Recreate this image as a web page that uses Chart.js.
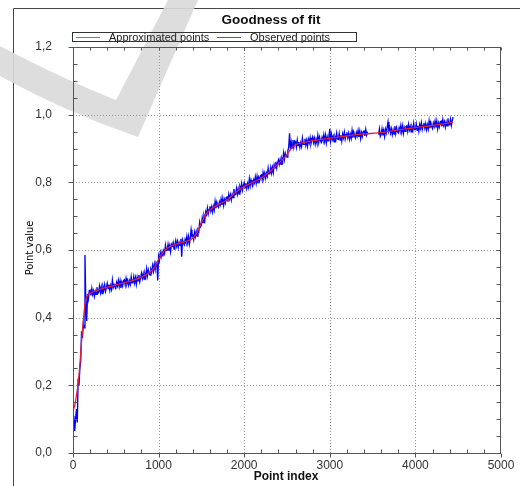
<!DOCTYPE html>
<html>
<head>
<meta charset="utf-8">
<script src="https://cdn.jsdelivr.net/npm/chart.js@4.4.1/dist/chart.umd.min.js"></script>
<style>
  html, body { margin: 0; padding: 0; background: #fff; }
  canvas { display: block; }
</style>
</head>
<body>
<canvas id="chart" width="520" height="486"></canvas>
<script>
// approximated (smooth) curve
const fitIndex = [0, 20, 40, 60, 80, 100, 120, 140, 160, 200, 300, 400, 500, 600, 700, 800, 900, 950,
  1000, 1050, 1100, 1200, 1300, 1400, 1450, 1500, 1550, 1600, 1700, 1800, 1900, 2000, 2100, 2200,
  2300, 2400, 2500, 2550, 2600, 2700, 2800, 2900, 3000, 3200, 3400, 3560, 3800, 4000, 4200, 4440]
const fitValue = [0.125, 0.14, 0.17, 0.205, 0.26, 0.33, 0.39, 0.44, 0.462, 0.472, 0.482, 0.49, 0.497, 0.503, 0.51, 0.52, 0.535, 0.548,
  0.572, 0.592, 0.605, 0.617, 0.624, 0.635, 0.652, 0.68, 0.705, 0.718, 0.735, 0.748, 0.77, 0.788, 0.8, 0.813,
  0.832, 0.855, 0.882, 0.9, 0.911, 0.918, 0.923, 0.927, 0.93, 0.937, 0.943, 0.946, 0.955, 0.962, 0.968, 0.978]

// observed points, one value every obsStep indices; two runs with a gap between them
const obsStep = 10
const obsStartA = 0
const obsA = [
  0.080, 0.110, 0.065, 0.100, 0.130, 0.090, 0.220, 0.200, 0.250, 0.270,
  0.360, 0.340, 0.380, 0.370, 0.585, 0.440, 0.390, 0.470, 0.455, 0.480,
  0.481, 0.466, 0.486, 0.469, 0.479, 0.463, 0.478, 0.469, 0.490, 0.472,
  0.476, 0.493, 0.474, 0.490, 0.471, 0.492, 0.482, 0.497, 0.478, 0.489,
  0.501, 0.486, 0.498, 0.481, 0.495, 0.484, 0.511, 0.490, 0.498, 0.491,
  0.488, 0.504, 0.494, 0.510, 0.492, 0.508, 0.488, 0.505, 0.494, 0.509,
  0.512, 0.497, 0.516, 0.500, 0.510, 0.496, 0.509, 0.499, 0.521, 0.503,
  0.504, 0.521, 0.503, 0.518, 0.499, 0.520, 0.509, 0.526, 0.506, 0.518,
  0.531, 0.516, 0.530, 0.514, 0.530, 0.519, 0.544, 0.524, 0.541, 0.530,
  0.526, 0.543, 0.536, 0.554, 0.538, 0.558, 0.542, 0.563, 0.557, 0.510,
  0.581, 0.569, 0.592, 0.580, 0.594, 0.581, 0.598, 0.590, 0.614, 0.598,
  0.599, 0.616, 0.598, 0.613, 0.595, 0.617, 0.612, 0.622, 0.603, 0.616,
  0.628, 0.612, 0.625, 0.608, 0.622, 0.614, 0.633, 0.580, 0.629, 0.620,
  0.615, 0.631, 0.622, 0.640, 0.621, 0.639, 0.618, 0.635, 0.660, 0.641,
  0.644, 0.631, 0.653, 0.640, 0.654, 0.641, 0.660, 0.655, 0.682, 0.669,
  0.674, 0.695, 0.681, 0.700, 0.688, 0.713, 0.705, 0.724, 0.707, 0.720,
  0.729, 0.715, 0.728, 0.713, 0.729, 0.718, 0.743, 0.724, 0.741, 0.730,
  0.726, 0.742, 0.734, 0.751, 0.733, 0.752, 0.732, 0.749, 0.739, 0.755,
  0.757, 0.743, 0.764, 0.751, 0.763, 0.748, 0.764, 0.755, 0.780, 0.763,
  0.764, 0.782, 0.765, 0.780, 0.765, 0.787, 0.778, 0.796, 0.777, 0.790,
  0.799, 0.784, 0.797, 0.782, 0.797, 0.786, 0.810, 0.790, 0.807, 0.796,
  0.791, 0.807, 0.799, 0.816, 0.798, 0.817, 0.797, 0.814, 0.804, 0.820,
  0.822, 0.808, 0.829, 0.815, 0.827, 0.812, 0.827, 0.818, 0.842, 0.825,
  0.826, 0.844, 0.828, 0.844, 0.829, 0.852, 0.843, 0.861, 0.843, 0.857,
  0.866, 0.853, 0.867, 0.853, 0.870, 0.861, 0.886, 0.868, 0.886, 0.876,
  0.875, 0.893, 0.905, 0.945, 0.898, 0.918, 0.902, 0.925, 0.905, 0.922,
  0.920, 0.904, 0.925, 0.909, 0.919, 0.903, 0.917, 0.906, 0.930, 0.912,
  0.912, 0.929, 0.910, 0.924, 0.907, 0.927, 0.917, 0.932, 0.914, 0.926,
  0.934, 0.918, 0.930, 0.913, 0.927, 0.916, 0.939, 0.918, 0.934, 0.923,
  0.918, 0.933, 0.924, 0.940, 0.921, 0.939, 0.917, 0.934, 0.923, 0.937,
  0.958, 0.923, 0.942, 0.927, 0.936, 0.920, 0.934, 0.925, 0.945, 0.928,
  0.927, 0.944, 0.925, 0.939, 0.922, 0.943, 0.932, 0.948, 0.928, 0.941,
  0.948, 0.932, 0.945, 0.928, 0.942, 0.930, 0.953, 0.932, 0.948, 0.937,
  0.931, 0.947, 0.937, 0.953, 0.934, 0.951, 0.930, 0.947, 0.936, 0.950,
  0.952, 0.937, 0.956, 0.940, 0.950]
const obsStartB = 3570
const obsB = [
  0.941, 0.958, 0.936,
  0.942, 0.958, 0.939, 0.953, 0.936, 0.957, 0.946, 0.962, 0.978, 0.953,
  0.962, 0.946, 0.958, 0.941, 0.955, 0.943, 0.966, 0.945, 0.961, 0.950,
  0.946, 0.961, 0.952, 0.968, 0.949, 0.966, 0.945, 0.961, 0.951, 0.965,
  0.967, 0.951, 0.971, 0.955, 0.965, 0.949, 0.963, 0.953, 0.974, 0.956,
  0.956, 0.972, 0.954, 0.967, 0.951, 0.971, 0.960, 0.976, 0.956, 0.968,
  0.976, 0.960, 0.973, 0.956, 0.970, 0.958, 0.981, 0.960, 0.976, 0.965,
  0.959, 0.975, 0.965, 0.981, 0.962, 0.980, 0.958, 0.975, 0.964, 0.979,
  0.981, 0.965, 0.985, 0.969, 0.979, 0.963, 0.978, 0.967, 0.989, 0.970,
  0.970, 0.986, 0.968, 0.982, 0.993]

const xMax = 5000
const yMax = 1.2

function runPoints(start, values) {
  return values.map((v, i) => ({ x: start + i * obsStep, y: v }))
}

const observed = runPoints(obsStartA, obsA)
  .concat([{ x: 3505, y: null }])
  .concat(runPoints(obsStartB, obsB))
const approximated = fitIndex.map((x, i) => ({ x: x, y: fitValue[i] }))

const FONT = 'Arial, "Liberation Sans", sans-serif'

const decor = {
  id: 'decor',
  beforeDraw(chart) {
    const ctx = chart.ctx
    ctx.save()
    ctx.fillStyle = '#fff'
    ctx.fillRect(0, 0, chart.width, chart.height)
    // outer frame
    ctx.strokeStyle = '#444'
    ctx.lineWidth = 1
    ctx.beginPath()
    ctx.moveTo(13.5, chart.height)
    ctx.lineTo(13.5, 8.5)
    ctx.lineTo(chart.width, 8.5)
    ctx.stroke()
    // grey watermark check
    ctx.fillStyle = 'rgba(218,218,218,0.92)'
    ctx.beginPath()
    ctx.moveTo(0, 46)
    ctx.quadraticCurveTo(65, 80, 116, 100)
    ctx.lineTo(168, 0)
    ctx.lineTo(198, 0)
    ctx.lineTo(138, 137)
    ctx.quadraticCurveTo(65, 112, 0, 76)
    ctx.closePath()
    ctx.fill()
    ctx.restore()
  },
  beforeDatasetsDraw(chart) {
    const ctx = chart.ctx
    const { left, right, top, bottom } = chart.chartArea
    const xs = chart.scales.x, ys = chart.scales.y
    ctx.save()
    ctx.strokeStyle = '#9a9a9a'
    ctx.lineWidth = 1
    ctx.setLineDash([1, 2])
    ctx.beginPath()
    for (let v = 1000; v < xMax; v += 1000) {
      const px = Math.round(xs.getPixelForValue(v)) + 0.5
      ctx.moveTo(px, top)
      ctx.lineTo(px, bottom)
    }
    for (let k = 1; k < 6; k++) {
      const py = Math.round(ys.getPixelForValue(k * 0.2)) + 0.5
      ctx.moveTo(left, py)
      ctx.lineTo(right, py)
    }
    ctx.stroke()
    ctx.restore()
  },
  afterDatasetsDraw(chart) {
    const ctx = chart.ctx
    const { left, right, top, bottom } = chart.chartArea
    const xs = chart.scales.x, ys = chart.scales.y
    const L = Math.round(left) + 0.5, R = Math.round(right) - 0.5
    const T = Math.round(top) + 0.5, B = Math.round(bottom) + 0.5
    ctx.save()
    ctx.strokeStyle = '#555'
    ctx.lineWidth = 1
    ctx.strokeRect(L, T, R - L, B - T)
    ctx.beginPath()
    for (let v = 0; v <= xMax; v += 200) {
      const px = Math.round(xs.getPixelForValue(v)) + 0.5
      if (v % 1000 === 0) {
        ctx.moveTo(px, B); ctx.lineTo(px, B + 4)
      } else {
        ctx.moveTo(px, B); ctx.lineTo(px, B - 4)
      }
      ctx.moveTo(px, T); ctx.lineTo(px, T + 3)
    }
    for (let k = 0; k <= 24; k++) {
      const py = Math.round(ys.getPixelForValue(k * 0.05)) + 0.5
      if (k % 4 === 0) {
        ctx.moveTo(L, py); ctx.lineTo(L - 5, py)
      } else {
        ctx.moveTo(L, py); ctx.lineTo(L + 4, py)
      }
      ctx.moveTo(R, py); ctx.lineTo(R - 4, py)
    }
    ctx.stroke()

    // title
    ctx.fillStyle = '#111'
    ctx.textAlign = 'center'
    ctx.textBaseline = 'middle'
    ctx.font = 'bold 13.5px ' + FONT
    ctx.fillText('Goodness of fit', 271, 20)
    // x axis title
    ctx.font = 'bold 12px ' + FONT
    ctx.fillText('Point index', 286, 477)
    // y axis title
    ctx.save()
    ctx.translate(30, 248)
    ctx.rotate(-Math.PI / 2)
    ctx.fillStyle = '#000'
    ctx.font = '11px "Liberation Sans Narrow", "DejaVu Sans Condensed", Arial, sans-serif'
    ctx.fillText('Point value', 0, 0)
    ctx.restore()

    // legend box
    const ds = chart.data.datasets
    ctx.strokeStyle = '#333'
    ctx.strokeRect(72.5, 32.5, 284, 9)
    ctx.font = '11px ' + FONT
    ctx.textAlign = 'left'
    ctx.fillStyle = '#222'
    const items = [
      { x: 76, text: ds[0].label, color: '#e05060' },
      { x: 217, text: ds[1].label, color: '#5050e0' },
    ]
    items.forEach((it) => {
      ctx.strokeStyle = it.color
      ctx.beginPath()
      ctx.moveTo(it.x, 37.5)
      ctx.lineTo(it.x + 24, 37.5)
      ctx.stroke()
      ctx.fillText(it.text, it.x + 33, 37.5)
    })
    ctx.restore()
  },
}

new Chart(document.getElementById('chart'), {
  type: 'line',
  data: {
    datasets: [
      {
        label: 'Approximated points',
        data: approximated,
        borderColor: '#e02038',
        borderWidth: 1.3,
        pointRadius: 0,
        cubicInterpolationMode: 'monotone',
      },
      {
        label: 'Observed points',
        data: observed,
        borderColor: '#0000ff',
        borderWidth: 1.35,
        pointRadius: 0,
        spanGaps: false,
      },
    ],
  },
  options: {
    responsive: false,
    animation: false,
    devicePixelRatio: 1,
    layout: { padding: { top: 47, right: 19, left: 0, bottom: 0 } },
    plugins: {
      legend: { display: false },
      title: { display: false },
      tooltip: { enabled: false },
    },
    scales: {
      x: {
        type: 'linear',
        min: 0,
        max: xMax,
        grid: { display: false, drawTicks: false },
        border: { display: false },
        afterFit: (s) => { s.height = 33 },
        ticks: {
          stepSize: 1000,
          padding: 5,
          maxRotation: 0,
          color: '#333',
          font: { size: 12, family: FONT },
          callback: (v) => String(v),
        },
      },
      y: {
        type: 'linear',
        min: 0,
        max: yMax,
        grid: { display: false, drawTicks: false },
        border: { display: false },
        afterFit: (s) => { s.width = 73 },
        ticks: {
          stepSize: 0.2,
          padding: 21,
          color: '#333',
          font: { size: 12, family: FONT },
          callback: (v) => v.toFixed(1).replace('.', ','),
        },
      },
    },
  },
  plugins: [decor],
})
</script>
</body>
</html>
